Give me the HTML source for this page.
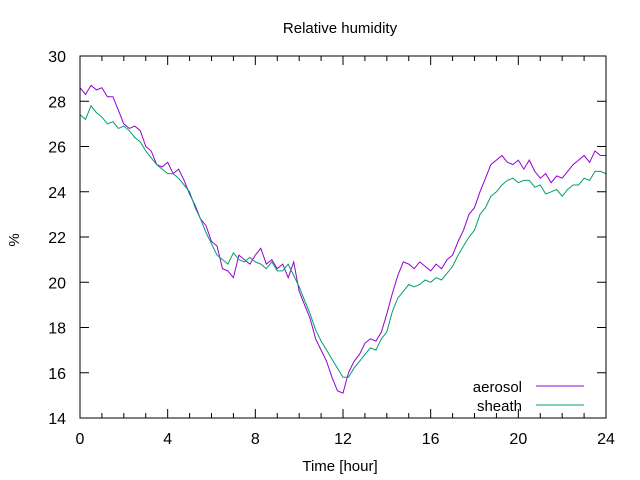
<!DOCTYPE html>
<html><head><meta charset="utf-8"><style>body{margin:0;background:#fff}svg{display:block;font-family:"Liberation Sans",sans-serif;font-size:16px}</style></head>
<body>
<svg id="chart" width="640" height="480" xmlns="http://www.w3.org/2000/svg">
<text x="340" y="33" text-anchor="middle" font-size="15">Relative humidity</text>
<text x="19" y="240" text-anchor="middle" transform="rotate(-90 19 240)" font-size="15">%</text>
<text x="340" y="471" text-anchor="middle" font-size="15">Time [hour]</text>
<g id="axes"></g>
<g id="series"></g>
<rect x="80" y="56" width="526" height="362" fill="none" stroke="#000" stroke-width="1"/>
<g>
<text x="522" y="392" text-anchor="end" font-size="15">aerosol</text>
<line x1="536" y1="386" x2="584" y2="386" stroke="#9400d3"/>
<text x="522" y="411" text-anchor="end" font-size="15">sheath</text>
<line x1="536" y1="405" x2="584" y2="405" stroke="#009e73"/>
</g>
</svg>
<script>
const xTicks=[0,4,8,12,16,20,24];
const yTicks=[14,16,18,20,22,24,26,28,30];
const step=0.25;
const aerosol=[28.6,28.3,28.7,28.5,28.6,28.2,28.2,27.6,27.0,26.8,26.9,26.7,26.0,25.8,25.2,25.1,25.3,24.8,25.0,24.5,23.9,23.4,22.8,22.5,21.8,21.6,20.6,20.5,20.2,21.2,21.0,20.8,21.2,21.5,20.8,21.0,20.6,20.8,20.2,20.9,19.6,19.0,18.4,17.5,17.0,16.5,15.8,15.2,15.1,16.0,16.5,16.8,17.3,17.5,17.4,17.8,18.6,19.5,20.3,20.9,20.8,20.6,20.9,20.7,20.5,20.8,20.6,21.0,21.2,21.8,22.3,23.0,23.3,24.0,24.6,25.2,25.4,25.6,25.3,25.2,25.4,25.0,25.4,24.9,24.6,24.8,24.4,24.7,24.6,24.9,25.2,25.4,25.6,25.3,25.8,25.6,25.6];
const sheath=[27.4,27.2,27.8,27.5,27.3,27.0,27.1,26.8,26.9,26.7,26.4,26.2,25.8,25.5,25.2,25.0,24.8,24.8,24.6,24.3,24.0,23.3,22.8,22.2,21.7,21.2,21.0,20.8,21.3,21.0,20.9,21.1,20.9,20.8,20.6,20.9,20.5,20.5,20.8,20.3,19.8,19.2,18.6,17.9,17.4,17.0,16.6,16.2,15.8,15.8,16.2,16.5,16.8,17.1,17.0,17.5,17.8,18.7,19.3,19.6,19.9,19.8,19.9,20.1,20.0,20.2,20.1,20.4,20.7,21.2,21.6,22.0,22.3,23.0,23.3,23.8,24.0,24.3,24.5,24.6,24.4,24.5,24.5,24.2,24.3,23.9,24.0,24.1,23.8,24.1,24.3,24.3,24.6,24.5,24.9,24.9,24.8];
const NS="http://www.w3.org/2000/svg";
const X=h=>80+h/24*526, Y=v=>418-(v-14)/16*362;
const ax=document.getElementById('axes'), se=document.getElementById('series');
function mk(t,a,p){const e=document.createElementNS(NS,t);for(const k in a)e.setAttribute(k,a[k]);p.appendChild(e);return e;}
xTicks.forEach(t=>{
 const g=mk('g',{},ax);
 
 
 mk('line',{x1:X(t),x2:X(t),y1:418,y2:409,stroke:'#000'},g);
 mk('line',{x1:X(t),x2:X(t),y1:56,y2:65,stroke:'#000'},g);
 const tx=mk('text',{x:X(t),y:444,'text-anchor':'middle'},g);tx.textContent=t;
});
for(let m=1;m<24;m++){if(m%4){const l=mk('line',{x1:X(m),x2:X(m),y1:418,y2:413,stroke:'#000'},ax);const l2=mk('line',{x1:X(m),x2:X(m),y1:56,y2:61,stroke:'#000'},ax);}}
yTicks.forEach(t=>{
 const g=mk('g',{},ax);
 
 
 mk('line',{x1:80,x2:89,y1:Y(t),y2:Y(t),stroke:'#000'},g);
 mk('line',{x1:606,x2:597,y1:Y(t),y2:Y(t),stroke:'#000'},g);
 const tx=mk('text',{x:66,y:Y(t)+6,'text-anchor':'end'},g);tx.textContent=t;
});
function line(arr,col,name){
 const p=arr.map((v,i)=>X(i*step).toFixed(1)+','+Y(v).toFixed(1)).join(' ');
 const e=mk('polyline',{points:p,fill:'none',stroke:col,'stroke-width':1},se);
 
 
}
line(aerosol,'#9400d3','aerosol-line');
line(sheath,'#009e73','sheath-line');
</script>
</body></html>
